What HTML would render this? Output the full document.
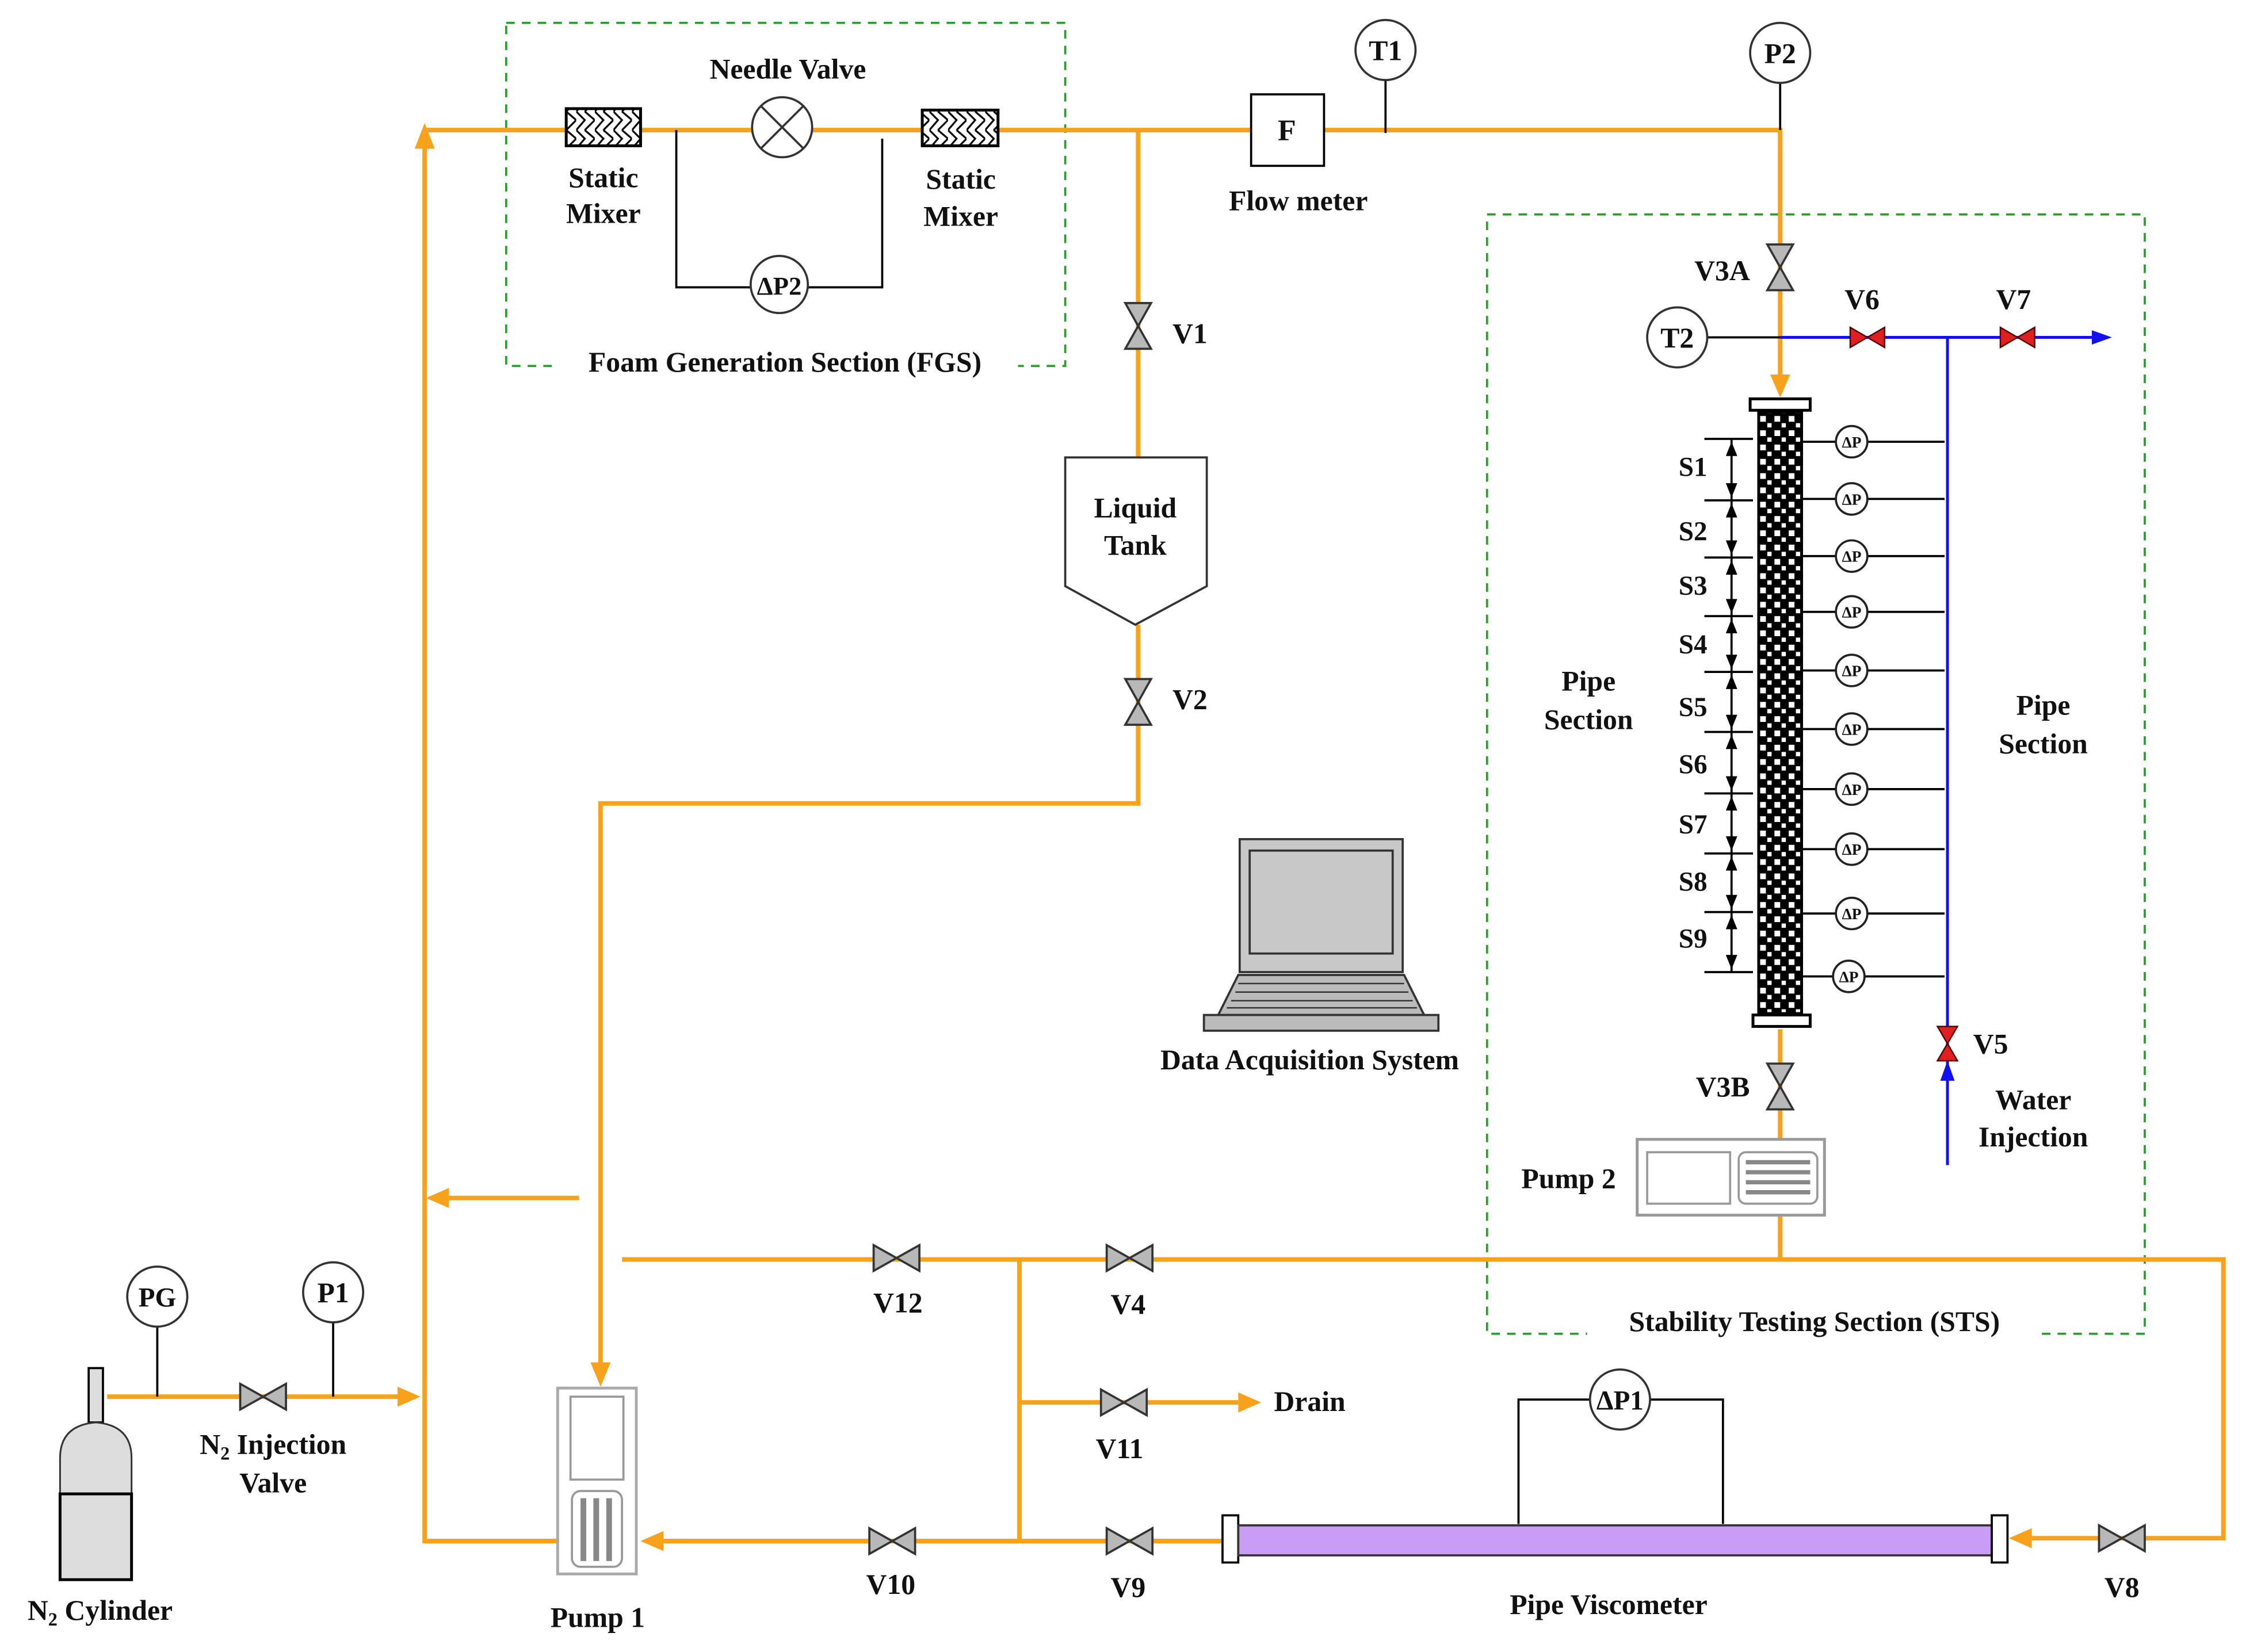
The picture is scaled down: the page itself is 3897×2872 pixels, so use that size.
<!DOCTYPE html>
<html><head><meta charset="utf-8"><style>
html,body{margin:0;padding:0;background:#fff;}
svg{display:block;}
text{font-family:"Liberation Serif","DejaVu Serif",serif;font-weight:bold;fill:#111;}
</style></head><body>
<svg width="3897" height="2872" viewBox="0 0 1568 1155.6" preserveAspectRatio="none" xmlns="http://www.w3.org/2000/svg" font-family="Liberation Serif, DejaVu Serif, serif">
<defs>
<g id="vh"><polygon points="-16,-9 -16,9 0,0" fill="#b8b8b8" stroke="#333" stroke-width="1.5"/><polygon points="16,-9 16,9 0,0" fill="#b8b8b8" stroke="#333" stroke-width="1.5"/></g>
<g id="vv"><polygon points="-9,-16 9,-16 0,0" fill="#b8b8b8" stroke="#333" stroke-width="1.5"/><polygon points="-9,16 9,16 0,0" fill="#b8b8b8" stroke="#333" stroke-width="1.5"/></g>
<g id="rh"><polygon points="-12,-7 -12,7 0,0" fill="#e02020" stroke="#500" stroke-width="1"/><polygon points="12,-7 12,7 0,0" fill="#e02020" stroke="#500" stroke-width="1"/></g>
<g id="rv"><polygon points="-7,-12 7,-12 0,0" fill="#e02020" stroke="#500" stroke-width="1"/><polygon points="-7,12 7,12 0,0" fill="#e02020" stroke="#500" stroke-width="1"/></g>
<pattern id="chk" width="10" height="10" patternUnits="userSpaceOnUse"><rect width="10" height="10" fill="#000"/><rect x="1" y="1" width="4" height="4" fill="#fff"/><rect x="6" y="6" width="3" height="3" fill="#fff"/></pattern>
<pattern id="hatch" width="13" height="13" patternUnits="userSpaceOnUse"><rect width="13" height="13" fill="#fff"/><path d="M0,0 L6,6 L0,13 M6,0 L13,6 L6,13" stroke="#000" stroke-width="1.3" fill="none"/></pattern>
<g id="dp"><circle r="11" fill="#fff" stroke="#222" stroke-width="1.5"/><text x="0" y="4" font-size="11" text-anchor="middle">ΔP</text></g>
</defs>

<rect x="354" y="16" width="391" height="240" fill="none" stroke="#2a9d2a" stroke-width="1.5" stroke-dasharray="6,5"/>
<rect x="1040" y="150" width="460" height="783" fill="none" stroke="#2a9d2a" stroke-width="1.5" stroke-dasharray="6,5"/>
<rect x="386" y="245" width="326" height="22" fill="#fff"/>
<rect x="1110" y="922" width="318" height="22" fill="#fff"/>

<g stroke="#f7a21a" stroke-width="3.2" fill="none">
<path d="M297,91 H1245 V268"/>
<path d="M297,100 V1078 H390"/>
<path d="M75,977 H282"/>
<path d="M310,838 H405"/>
<path d="M796,91 V320"/>
<path d="M796,437 V562 H420 V958"/>
<path d="M435,881 H1555 V1076 H1418"/>
<path d="M713,881 V1078"/>
<path d="M713,981 H866"/>
<path d="M462,1078 H860"/>
<path d="M1245,720 V797 M1245,850 V881"/>
</g>
<g fill="#f7a21a">
<polygon points="297,86 290,104 304,104"/>
<polygon points="294,977 278,970 278,984"/>
<polygon points="298,838 314,831 314,845"/>
<polygon points="420,970 413,953 427,953"/>
<polygon points="448,1078 464,1071 464,1085"/>
<polygon points="882,981 866,974 866,988"/>
<polygon points="1245,278 1238,262 1252,262"/>
<polygon points="1405,1076 1421,1069 1421,1083"/>
</g>

<g stroke="#1010f0" stroke-width="2" fill="none"><path d="M1245,236 H1465"/><path d="M1362,236 V815"/></g>
<polygon points="1477,236 1463,231 1463,241" fill="#1010f0"/>
<polygon points="1362,742 1357,756 1367,756" fill="#1010f0"/>
<use href="#rh" x="1306" y="236"/><use href="#rh" x="1411" y="236"/><use href="#rv" x="1362" y="730"/>

<use href="#vv" x="796" y="228"/><use href="#vv" x="796" y="491"/>
<use href="#vv" x="1245" y="187"/><use href="#vv" x="1245" y="760"/>
<use href="#vh" x="184" y="977"/><use href="#vh" x="627" y="880"/><use href="#vh" x="790" y="880"/>
<use href="#vh" x="786" y="981"/><use href="#vh" x="624" y="1078"/><use href="#vh" x="790" y="1078"/><use href="#vh" x="1484" y="1076"/>

<rect x="396" y="76" width="52" height="26" fill="url(#hatch)" stroke="#000" stroke-width="2"/>
<rect x="645" y="77" width="53" height="25" fill="url(#hatch)" stroke="#000" stroke-width="2"/>
<path d="M473,91 V201 H617 V97" stroke="#000" stroke-width="1.5" fill="none"/>
<circle cx="547" cy="89" r="21" fill="#fff" stroke="#333" stroke-width="1.5"/>
<path d="M532,74 L562,104 M562,74 L532,104" stroke="#333" stroke-width="1.5"/>
<circle cx="545" cy="199" r="20" fill="#fff" stroke="#333" stroke-width="1.5"/>
<text x="545" y="206" font-size="18" text-anchor="middle">ΔP2</text>

<rect x="875" y="66" width="51" height="50" fill="#fff" stroke="#000" stroke-width="1.5"/>
<text x="900" y="98" font-size="21" text-anchor="middle">F</text>
<line x1="969" y1="56" x2="969" y2="93" stroke="#000" stroke-width="1.5"/>
<circle cx="969" cy="35" r="21" fill="#fff" stroke="#333" stroke-width="1.5"/><text x="969" y="42" font-size="20" text-anchor="middle">T1</text>
<line x1="1245" y1="58" x2="1245" y2="91" stroke="#000" stroke-width="1.5"/>
<circle cx="1245" cy="37" r="21" fill="#fff" stroke="#333" stroke-width="1.5"/><text x="1245" y="44" font-size="20" text-anchor="middle">P2</text>
<line x1="1194" y1="236" x2="1245" y2="236" stroke="#000" stroke-width="1.5"/>
<circle cx="1173" cy="236" r="21" fill="#fff" stroke="#333" stroke-width="1.5"/><text x="1173" y="243" font-size="20" text-anchor="middle">T2</text>
<line x1="110" y1="928" x2="110" y2="977" stroke="#000" stroke-width="1.5"/>
<circle cx="110" cy="907" r="21" fill="#fff" stroke="#333" stroke-width="1.5"/><text x="110" y="914" font-size="19" text-anchor="middle">PG</text>
<line x1="233" y1="925" x2="233" y2="977" stroke="#000" stroke-width="1.5"/>
<circle cx="233" cy="904" r="21" fill="#fff" stroke="#333" stroke-width="1.5"/><text x="233" y="911" font-size="20" text-anchor="middle">P1</text>

<polygon points="745,320 844,320 844,410 794,437 745,410" fill="#fff" stroke="#333" stroke-width="1.5"/>
<text x="794" y="362" font-size="20" text-anchor="middle">Liquid</text>
<text x="794" y="388" font-size="20" text-anchor="middle">Tank</text>

<rect x="1224" y="279" width="42" height="8" fill="#fff" stroke="#000" stroke-width="2"/>
<rect x="1230" y="288" width="30" height="421" fill="url(#chk)" stroke="#000" stroke-width="2"/>
<rect x="1226" y="710" width="40" height="8" fill="#fff" stroke="#000" stroke-width="2"/>
<g stroke="#000" stroke-width="1.5">
<line x1="1192" y1="307" x2="1226" y2="307"/><line x1="1192" y1="350" x2="1226" y2="350"/><line x1="1192" y1="390" x2="1226" y2="390"/><line x1="1192" y1="431" x2="1226" y2="431"/><line x1="1192" y1="470" x2="1226" y2="470"/><line x1="1192" y1="512" x2="1226" y2="512"/><line x1="1192" y1="555" x2="1226" y2="555"/><line x1="1192" y1="597" x2="1226" y2="597"/><line x1="1192" y1="638" x2="1226" y2="638"/><line x1="1192" y1="680" x2="1226" y2="680"/>
<line x1="1211" y1="307" x2="1211" y2="680"/>
</g>
<g fill="#000">
<polygon points="1211,309 1207,319 1215,319"/><polygon points="1211,348 1207,338 1215,338"/>
<polygon points="1211,352 1207,362 1215,362"/><polygon points="1211,388 1207,378 1215,378"/>
<polygon points="1211,392 1207,402 1215,402"/><polygon points="1211,429 1207,419 1215,419"/>
<polygon points="1211,433 1207,443 1215,443"/><polygon points="1211,468 1207,458 1215,458"/>
<polygon points="1211,472 1207,482 1215,482"/><polygon points="1211,510 1207,500 1215,500"/>
<polygon points="1211,514 1207,524 1215,524"/><polygon points="1211,553 1207,543 1215,543"/>
<polygon points="1211,557 1207,567 1215,567"/><polygon points="1211,595 1207,585 1215,585"/>
<polygon points="1211,599 1207,609 1215,609"/><polygon points="1211,636 1207,626 1215,626"/>
<polygon points="1211,640 1207,650 1215,650"/><polygon points="1211,678 1207,668 1215,668"/>
</g>
<g font-size="19">
<text x="1174" y="333">S1</text><text x="1174" y="378">S2</text><text x="1174" y="416">S3</text><text x="1174" y="457">S4</text><text x="1174" y="501">S5</text><text x="1174" y="541">S6</text><text x="1174" y="583">S7</text><text x="1174" y="623">S8</text><text x="1174" y="663">S9</text>
</g>
<g stroke="#000" stroke-width="1.5">
<path d="M1260,309 H1360 M1260,349 H1360 M1260,389 H1360 M1260,428 H1360 M1260,469 H1360 M1260,510 H1360 M1260,552 H1360 M1260,594 H1360 M1260,639 H1360 M1260,683 H1360"/>
</g>
<use href="#dp" x="1295" y="309"/><use href="#dp" x="1295" y="349"/><use href="#dp" x="1295" y="389"/><use href="#dp" x="1295" y="428"/><use href="#dp" x="1295" y="469"/><use href="#dp" x="1295" y="510"/><use href="#dp" x="1295" y="552"/><use href="#dp" x="1295" y="594"/><use href="#dp" x="1295" y="639"/><use href="#dp" x="1293" y="683"/>

<rect x="1145" y="797" width="131" height="53" fill="#fff" stroke="#999" stroke-width="2"/>
<rect x="1152" y="806" width="58" height="36" fill="#fff" stroke="#999" stroke-width="1.5"/>
<rect x="1216" y="806" width="55" height="36" rx="5" fill="#fff" stroke="#999" stroke-width="1.5"/>
<path d="M1221,813 H1266 M1221,820 H1266 M1221,827 H1266 M1221,834 H1266" stroke="#888" stroke-width="3"/>

<rect x="390" y="971" width="55" height="130" fill="#fff" stroke="#aaa" stroke-width="2"/>
<rect x="399" y="977" width="37" height="58" fill="#fff" stroke="#999" stroke-width="1.5"/>
<rect x="400" y="1043" width="35" height="53" rx="6" fill="#fff" stroke="#999" stroke-width="1.5"/>
<path d="M408,1048 V1092 M417,1048 V1092 M426,1048 V1092" stroke="#888" stroke-width="4"/>

<rect x="62" y="957" width="10" height="38" fill="#ddd" stroke="#000" stroke-width="1.5"/>
<path d="M42,1045 V1020 Q42,997 67,995 Q92,997 92,1020 V1045 Z" fill="#ddd" stroke="#333" stroke-width="1.2"/>
<rect x="42" y="1045" width="50" height="60" fill="#ddd" stroke="#000" stroke-width="2"/>

<rect x="867" y="587" width="114" height="93" fill="#c8c8c8" stroke="#333" stroke-width="1.5"/>
<rect x="874" y="595" width="100" height="72" fill="#c8c8c8" stroke="#333" stroke-width="1.5"/>
<polygon points="866,682 982,682 996,710 852,710" fill="#bbb" stroke="#333" stroke-width="1.5"/>
<path d="M866,688 H982 M864,694 H985 M861,700 H988 M858,705 H991" stroke="#333" stroke-width="1"/>
<rect x="842" y="710" width="164" height="11" fill="#bbb" stroke="#333" stroke-width="1.5"/>

<rect x="855" y="1060" width="11" height="33" fill="#fff" stroke="#000" stroke-width="1.5"/>
<rect x="866" y="1067" width="527" height="21" fill="#c99cf5" stroke="#333" stroke-width="1.5"/>
<rect x="1393" y="1060" width="11" height="33" fill="#fff" stroke="#000" stroke-width="1.5"/>
<path d="M1062,1066 V979 H1205 V1066" stroke="#000" stroke-width="1.5" fill="none"/>
<circle cx="1133" cy="979" r="21" fill="#fff" stroke="#333" stroke-width="1.5"/>
<text x="1133" y="986" font-size="19" text-anchor="middle">ΔP1</text>

<g font-size="20">
<text x="551" y="55" text-anchor="middle">Needle Valve</text>
<text x="422" y="131" text-anchor="middle">Static</text><text x="422" y="156" text-anchor="middle">Mixer</text>
<text x="672" y="132" text-anchor="middle">Static</text><text x="672" y="158" text-anchor="middle">Mixer</text>
<text x="549" y="260" text-anchor="middle">Foam Generation Section (FGS)</text>
<text x="908" y="147" text-anchor="middle">Flow meter</text>
<text x="820" y="240">V1</text><text x="820" y="496">V2</text>
<text x="1185" y="196">V3A</text><text x="1290" y="216">V6</text><text x="1396" y="216">V7</text>
<text x="1186" y="767">V3B</text><text x="1380" y="737">V5</text>
<text x="1111" y="483" text-anchor="middle">Pipe</text><text x="1111" y="510" text-anchor="middle">Section</text>
<text x="1429" y="500" text-anchor="middle">Pipe</text><text x="1429" y="527" text-anchor="middle">Section</text>
<text x="1422" y="776" text-anchor="middle">Water</text><text x="1422" y="802" text-anchor="middle">Injection</text>
<text x="916" y="748" text-anchor="middle">Data Acquisition System</text>
<text x="1064" y="831">Pump 2</text>
<text x="1269" y="931" text-anchor="middle">Stability Testing Section (STS)</text>
<text x="628" y="918" text-anchor="middle">V12</text><text x="789" y="919" text-anchor="middle">V4</text>
<text x="783" y="1020" text-anchor="middle">V11</text><text x="891" y="987">Drain</text>
<text x="623" y="1115" text-anchor="middle">V10</text><text x="789" y="1117" text-anchor="middle">V9</text>
<text x="1484" y="1117" text-anchor="middle">V8</text>
<text x="1125" y="1129" text-anchor="middle">Pipe Viscometer</text>
<text x="418" y="1138" text-anchor="middle">Pump 1</text>
<text x="191" y="1017" text-anchor="middle">N<tspan font-size="13" dy="4">2</tspan><tspan dy="-4"> Injection</tspan></text>
<text x="191" y="1044" text-anchor="middle">Valve</text>
<text x="70" y="1133" text-anchor="middle">N<tspan font-size="13" dy="4">2</tspan><tspan dy="-4"> Cylinder</tspan></text>
</g>
</svg>
</body></html>
